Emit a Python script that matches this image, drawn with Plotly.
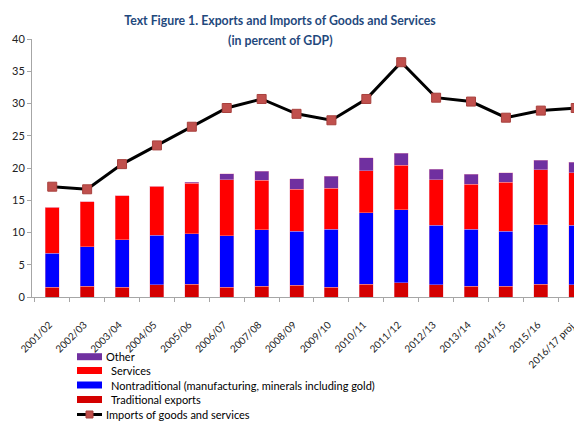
import plotly.graph_objs as go

# the page puts the figure 8px in from the top-left corner of the window
OFF = 8
W, H = 582 - OFF, 421 - OFF
L, R, T, B = 32 - OFF, 0, 39 - OFF, 124

years = ['2001/02', '2002/03', '2003/04', '2004/05', '2005/06', '2006/07', '2007/08', '2008/09',
         '2009/10', '2010/11', '2011/12', '2012/13', '2013/14', '2014/15', '2015/16', '2016/17 proj.']

traditional = [1.5, 1.7, 1.5, 1.9, 2.0, 1.5, 1.7, 1.8, 1.5, 2.0, 2.2, 1.9, 1.7, 1.7, 2.0, 1.9]
nontraditional = [5.3, 6.1, 7.4, 7.7, 7.8, 8.0, 8.7, 8.4, 9.0, 11.1, 11.3, 9.2, 8.8, 8.5, 9.2, 9.2]
services = [7.1, 7.0, 6.8, 7.6, 7.8, 8.7, 7.7, 6.5, 6.4, 6.5, 6.9, 7.1, 7.0, 7.6, 8.5, 8.2]
other = [0.0, 0.0, 0.0, 0.0, 0.2, 0.9, 1.4, 1.6, 1.8, 2.0, 1.9, 1.6, 1.5, 1.5, 1.5, 1.6]
imports = [17.1, 16.7, 20.6, 23.5, 26.4, 29.3, 30.7, 28.4, 27.4, 30.7, 36.4, 30.9, 30.3, 27.8, 28.9, 29.3]

DARK_RED = '#D40000'
RED      = '#FF0000'
BLUE     = '#0000FF'
PURPLE   = '#7030A0'
BRICK    = '#C0504D'
BLACK    = '#000000'
TITLE    = '#1F497D'
AXIS     = '#A6A6A6'
FONT     = 'Lato'

bar_series = [
    ('Traditional exports', traditional, DARK_RED),
    ('Nontraditional (manufacturing, minerals including gold)', nontraditional, BLUE),
    ('Services', services, RED),
    ('Other', other, PURPLE),
]


# window pixel -> paper helpers for the hand drawn legend
def px(x):
    return (x - OFF - L) / (W - L - R)


def py(y):
    return (H - B - (y - OFF)) / (H - T - B)


fig = go.Figure()
for name, vals, color in bar_series:
    fig.add_trace(go.Bar(x=years, y=vals, name=name, width=0.4,
                         marker=dict(color=color, line=dict(color='rgba(240,170,190,0.7)', width=0.6)),
                         showlegend=False))

fig.add_trace(go.Scatter(x=years, y=imports, name='Imports of goods and services', mode='lines+markers',
                         line=dict(color=BLACK, width=3),
                         marker=dict(symbol='square', size=9, color=BRICK, line=dict(color='#A8403D', width=1)),
                         showlegend=False))

# legend, drawn by hand to get the tight row spacing
shapes = []
annotations = []
legend_rows = [
    ('Other', PURPLE, 356.7, 104),
    ('Services', RED, 370.5, 109),
    ('Nontraditional (manufacturing, minerals including gold)', BLUE, 385, 109),
    ('Traditional exports', DARK_RED, 399.5, 109),
]
for label, color, y, tx in legend_rows:
    shapes.append(dict(type='rect', xref='paper', yref='paper', x0=px(77), x1=px(102),
                       y0=py(y - 3.5), y1=py(y + 3.5), fillcolor=color, line=dict(width=0)))
    annotations.append(dict(text=label, xref='paper', yref='paper', x=px(tx), y=py(y),
                            xanchor='left', yanchor='middle', showarrow=False,
                            font=dict(family=FONT, size=11, color=BLACK)))

shapes.append(dict(type='line', xref='paper', yref='paper', x0=px(77), x1=px(102),
                   y0=py(414.5), y1=py(414.5), line=dict(color=BLACK, width=3)))
shapes.append(dict(type='rect', xref='paper', yref='paper', x0=px(86), x1=px(93),
                   y0=py(418), y1=py(411), fillcolor=BRICK, line=dict(color='#A8403D', width=1)))
annotations.append(dict(text='Imports of goods and services', xref='paper', yref='paper', x=px(104), y=py(414.5),
                        xanchor='left', yanchor='middle', showarrow=False,
                        font=dict(family=FONT, size=11, color=BLACK)))

# second title line
annotations.append(dict(text='<b>(in percent of GDP)</b>', xref='paper', yref='paper', x=px(280), y=py(40),
                        xanchor='center', yanchor='middle', showarrow=False,
                        font=dict(family=FONT, size=12.3, color=TITLE)))

fig.update_layout(
    width=W, height=H,
    margin=dict(l=L, r=R, t=T, b=B),
    barmode='stack',
    plot_bgcolor='white', paper_bgcolor='white',
    font=dict(family=FONT, size=11, color='#333333'),
    title=dict(text='<b>Text Figure 1. Exports and Imports of Goods and Services</b>',
               x=(280 - OFF) / W, xref='container', xanchor='center',
               y=1 - (21 - OFF) / H, yref='container', yanchor='middle', automargin=False,
               font=dict(family=FONT, size=12.3, color=TITLE)),
    xaxis=dict(type='category', range=[-0.58, 15.18], showline=True, linecolor=AXIS, linewidth=1,
               ticks='outside', tickson='boundaries', ticklen=4, tickcolor=AXIS, automargin=False,
               tickangle=-45, ticklabelstandoff=17, ticklabelshift=-3,
               showgrid=False, tickfont=dict(size=10, color='#222222')),
    yaxis=dict(range=[0, 40], tickvals=[0, 5, 10, 15, 20, 25, 30, 35, 40], showline=True, linecolor=AXIS,
               linewidth=1, ticks='outside', ticklen=4, tickcolor=AXIS, showgrid=False, zeroline=False,
               automargin=False, tickfont=dict(size=11, color='#222222')),
    shapes=shapes,
    annotations=annotations,
)

fig.write_html('out.html')
